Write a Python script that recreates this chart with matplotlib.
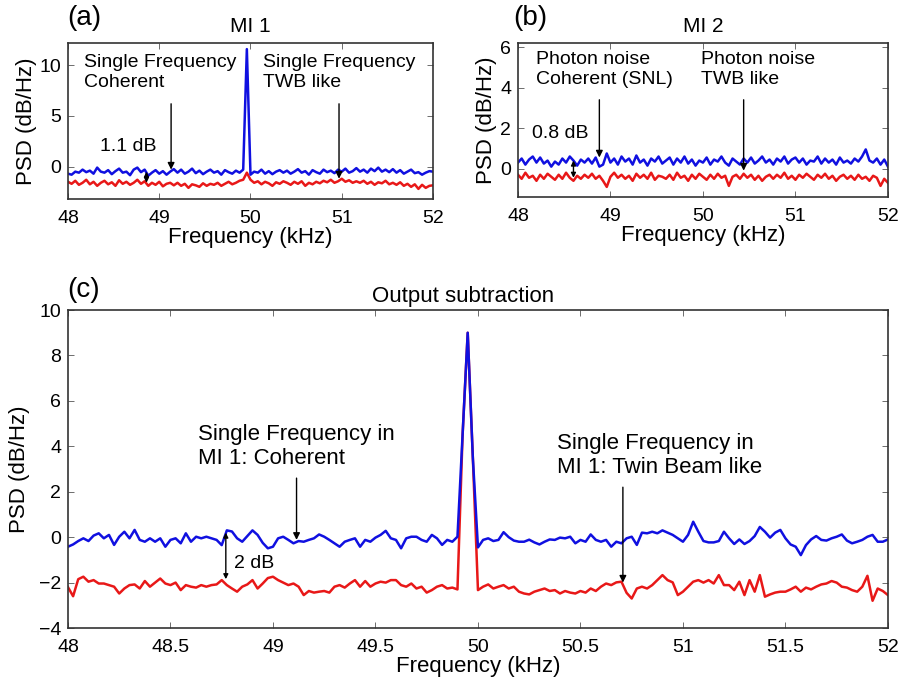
import numpy as np
import matplotlib
matplotlib.use("Agg")
import matplotlib.pyplot as plt

plt.rcParams['font.family'] = ['Liberation Sans', 'DejaVu Sans']

# ---- panel (a): MI 1, 0.04 kHz grid ----
a_blue = [-0.7, -0.8, -0.5, -0.6, -0.3, -0.55, -0.4, -0.7, -0.1, -0.5,
          -0.6, -0.35, -0.75, -0.45, -0.2, -0.6, -0.5, -0.85, -0.3, -0.1,
          -0.55, -0.3, -0.9, -0.6, -0.35, -0.7, -0.45, -0.8, -0.5, -0.25,
          -0.6, -0.3, -0.7, -0.5, -0.2, -0.65, -0.4, -0.75, -0.5, -0.3,
          -0.6, -0.45, -0.8, -0.35, -0.55, -0.7, -0.4, -0.6, -0.3, 11.6,
          -0.8, -0.5, -0.6, -0.3, -0.7, -0.45, -0.75, -0.5, -0.35, -0.6,
          -0.4, -0.7, -0.5, -0.25, -0.6, -0.45, -0.8, -0.35, -0.55, -0.7,
          -0.3, -0.55, -0.4, -0.65, -0.3, -0.5, -0.2, -0.6, -0.45, -0.15,
          -0.5, -0.3, -0.6, -0.2, -0.45, -0.1, -0.5, -0.3, -0.55, -0.25,
          -0.6, -0.35, -0.7, -0.5, -0.3, -0.65, -0.55, -0.8, -0.6, -0.45,
          -0.5]
a_red = [-1.5, -1.7, -1.4, -1.8, -1.6, -1.3, -1.75, -1.5, -1.9, -1.6,
         -1.4, -1.75, -1.55, -1.9, -1.35, -1.7, -1.5, -1.8, -1.6, -1.3,
         -1.7, -1.45, -1.9, -1.6, -1.8, -1.5, -1.95, -1.7, -1.6, -1.85,
         -1.6, -1.9, -1.7, -2.1, -1.75, -1.85, -2.0, -1.65, -1.9, -1.7,
         -1.8, -1.6, -1.9, -1.7, -1.5, -1.75, -1.6, -1.4, -1.3, -0.6,
         -1.3, -1.6, -1.45, -1.75, -1.5, -1.65, -1.9, -1.55, -1.7, -1.45,
         -1.6, -1.8, -1.5, -1.7, -1.45, -1.9, -1.6, -1.75, -1.5, -1.65,
         -1.4, -1.55, -1.3, -1.6, -1.45, -1.2, -1.5, -1.35, -1.6, -1.45,
         -1.6, -1.4, -1.7, -1.5, -1.8, -1.55, -1.65, -1.4, -1.75, -1.6,
         -1.8, -1.55, -1.9, -1.7, -2.0, -1.75, -2.2, -1.8, -2.1, -1.9,
         -1.85]

# ---- panel (b): MI 2, 0.04 kHz grid ----
b_blue = [0.3, 0.5, 0.2, 0.45, 0.6, 0.3, 0.55, 0.25, 0.4, 0.1,
          0.35, 0.2, 0.5, 0.3, 0.6, 0.4, 0.15, 0.45, 0.3, 0.5,
          0.25, 0.55, 0.1, 0.2, 0.75, 0.3, 0.5, 0.2, 0.6, 0.35,
          0.5, 0.2, 0.65, 0.3, 0.45, 0.15, 0.5, 0.35, 0.6, 0.25,
          0.4, 0.55, 0.2, 0.5, 0.3, 0.6, 0.25, 0.45, 0.15, 0.4,
          0.3, 0.55, 0.2, 0.45, 0.35, 0.6, 0.3, 0.15, 0.5, 0.35,
          0.2, 0.5, 0.3, 0.55, 0.25, 0.4, 0.6, 0.3, 0.45, 0.2,
          0.5, 0.35, 0.6, 0.25, 0.45, 0.55, 0.3, 0.5, 0.2, 0.4,
          0.35, 0.6, 0.25, 0.5, 0.3, 0.45, 0.2, 0.55, 0.3, 0.4,
          0.25, 0.5, 0.35, 0.6, 0.95, 0.4, 0.3, 0.5, 0.2, 0.45,
          0.1]
b_red = [-0.3, -0.5, -0.2, -0.45, -0.35, -0.6, -0.3, -0.5, -0.25, -0.4,
         -0.55, -0.3, -0.5, -0.2, -0.45, -0.6, -0.35, -0.5, -0.3, -0.45,
         -0.25, -0.5, -0.35, -0.6, -0.9, -0.4, -0.2, -0.45, -0.3, -0.5,
         -0.35, -0.6, -0.25, -0.45, -0.3, -0.5, -0.2, -0.55, -0.35, -0.4,
         -0.5, -0.3, -0.55, -0.2, -0.45, -0.35, -0.6, -0.3, -0.5, -0.25,
         -0.4, -0.55, -0.3, -0.5, -0.25, -0.45, -0.35, -0.85, -0.4, -0.3,
         -0.5, -0.25, -0.45, -0.3, -0.55, -0.35, -0.6, -0.4, -0.3, -0.5,
         -0.3, -0.45, -0.2, -0.5, -0.35, -0.55, -0.3, -0.45, -0.25, -0.4,
         -0.55, -0.3, -0.45, -0.25, -0.5, -0.35, -0.6, -0.4, -0.3, -0.5,
         -0.35, -0.55, -0.3, -0.5, -0.4, -0.6, -0.35, -0.45, -0.85, -0.5,
         -0.7]

# ---- panel (c): output subtraction, 0.025 kHz grid ----
c_blue = [-0.42, -0.32, -0.17, -0.05, -0.17, 0.07, 0.17, -0.05, 0.10, -0.34,
          0.02, 0.24, -0.05, 0.32, -0.12, -0.20, -0.05, -0.20, -0.05, -0.42,
          -0.12, -0.05, -0.27, 0.17, -0.20, 0.02, -0.05, 0.02, -0.05, -0.12,
          -0.35, 0.30, 0.25, -0.05, -0.20, 0.05, 0.30, 0.10, -0.25, -0.49,
          -0.42, -0.05, 0.02, -0.12, -0.27, -0.17, -0.20, -0.12, -0.05, 0.12,
          0.02, -0.12, -0.27, -0.42, -0.20, -0.12, -0.05, -0.42, -0.12, -0.20,
          -0.02, 0.10, 0.28, -0.05, -0.12, -0.49, -0.05, 0.02, 0.02, -0.12,
          -0.20, 0.10, -0.05, -0.34, -0.12, -0.20, 0.02, 4.5, 9.0, 3.5,
          -0.45, -0.12, -0.05, -0.17, -0.12, 0.22, 0.00, -0.15, -0.20, -0.20,
          -0.11, -0.23, -0.32, -0.20, -0.10, -0.12, -0.02, -0.05, 0.02, -0.27,
          -0.12, -0.20, 0.12, -0.12, -0.20, -0.12, -0.42, -0.20, -0.27, -0.05,
          0.02, -0.34, 0.20, 0.17, 0.24, 0.17, 0.30, 0.20, 0.10, -0.05,
          -0.20, 0.10, 0.68, 0.24, -0.17, -0.23, -0.23, -0.17, 0.24, -0.05,
          -0.30, -0.10, -0.30, -0.17, 0.05, 0.45, 0.24, -0.02, 0.20, 0.32,
          -0.05, -0.32, -0.42, -0.79, -0.35, -0.10, 0.05, -0.12, -0.15, -0.05,
          0.02, 0.12, -0.15, -0.27, -0.20, -0.12, 0.02, 0.10, -0.20, -0.20,
          -0.10]
c_red = [-2.20, -2.60, -1.85, -1.74, -1.96, -1.89, -2.04, -2.04, -2.11, -2.18,
         -2.48, -2.26, -2.11, -2.08, -2.26, -1.93, -2.18, -2.00, -1.82, -2.04,
         -2.11, -2.00, -2.33, -2.11, -2.18, -2.22, -2.11, -2.18, -2.11, -2.08,
         -1.89, -2.11, -2.26, -2.40, -2.18, -2.08, -1.89, -2.26, -2.04, -1.80,
         -1.74, -1.89, -2.00, -2.11, -2.04, -2.18, -2.55, -2.37, -2.44, -2.40,
         -2.37, -2.44, -2.18, -2.11, -2.22, -2.04, -1.89, -2.18, -1.93, -2.18,
         -2.04, -1.96, -2.00, -1.89, -1.89, -2.11, -2.18, -2.04, -2.26, -2.18,
         -2.44, -2.33, -2.18, -2.11, -2.26, -2.22, -2.30, 4.5, 9.0, 3.5,
         -2.33, -2.18, -2.08, -2.26, -2.18, -2.11, -2.26, -2.18, -2.40, -2.48,
         -2.52, -2.40, -2.33, -2.26, -2.37, -2.33, -2.48, -2.37, -2.44, -2.48,
         -2.37, -2.44, -2.26, -2.37, -2.18, -2.04, -2.11, -1.99, -1.96, -2.45,
         -2.70, -2.26, -2.18, -2.26, -2.11, -1.89, -1.67, -1.89, -1.99, -2.55,
         -2.40, -2.18, -1.96, -1.89, -2.00, -1.89, -2.04, -1.67, -2.11, -2.11,
         -2.33, -1.96, -2.55, -1.89, -2.40, -1.67, -2.62, -2.52, -2.44, -2.40,
         -2.40, -2.30, -2.18, -2.40, -2.22, -2.30, -2.18, -2.08, -2.04, -1.93,
         -2.00, -2.18, -2.22, -2.33, -2.40, -2.18, -1.70, -2.80, -2.26, -2.37,
         -2.55]

freq_a = np.linspace(48, 52, len(a_blue))
freq_b = np.linspace(48, 52, len(b_blue))
freq_c = np.linspace(48, 52, len(c_blue))

BLUE = '#1010e0'
RED = '#e81818'
TICK = 14
ANN = 14


def style(ax):
    ax.tick_params(direction='in', top=True, right=True, labelsize=TICK,
                   length=4, width=0.6, color='#555555')
    ax.tick_params(axis='x', pad=8)
    ax.tick_params(axis='y', pad=5)
    for s in ax.spines.values():
        s.set_color('#333333')
        s.set_linewidth(1.2)


def arrow(ax, x, y0, y1):
    ax.annotate('', xy=(x, y1), xytext=(x, y0),
                arrowprops=dict(arrowstyle='-|>', color='k', lw=1.0,
                                mutation_scale=10, shrinkA=0, shrinkB=0))


def darrow(ax, x, y0, y1):
    ax.annotate('', xy=(x, y1), xytext=(x, y0),
                arrowprops=dict(arrowstyle='<|-|>', color='k', lw=1.0,
                                mutation_scale=7, shrinkA=0, shrinkB=0))


fig = plt.figure(figsize=(8.98, 6.78), dpi=100)

# (a)
ax1 = fig.add_axes([0.0757, 0.7065, 0.4065, 0.2300])
ax1.plot(freq_a, a_red, color=RED, lw=1.8)
ax1.plot(freq_a, a_blue, color=BLUE, lw=1.8)
ax1.set_xlim(48, 52)
ax1.set_ylim(-3.2, 12.2)
ax1.set_xticks([48, 49, 50, 51, 52])
ax1.set_yticks([0, 5, 10])
style(ax1)
ax1.set_title('MI 1', fontsize=15, pad=8)
ax1.set_xlabel('Frequency (kHz)', fontsize=16, labelpad=0)
ax1.set_ylabel('PSD (dB/Hz)', fontsize=16, labelpad=2)
ax1.text(48.18, 11.1, 'Single Frequency\nCoherent', fontsize=ANN, va='top',
         linespacing=1.25)
ax1.text(50.14, 11.1, 'Single Frequency\nTWB like', fontsize=ANN, va='top',
         linespacing=1.25)
arrow(ax1, 49.13, 6.2, -0.3)
arrow(ax1, 50.97, 6.2, -1.2)
ax1.text(48.35, 2.0, '1.1 dB', fontsize=ANN, va='center')
darrow(ax1, 48.86, -0.5, -1.6)

# (b)
ax2 = fig.add_axes([0.5768, 0.7094, 0.4120, 0.2271])
ax2.plot(freq_b, b_red, color=RED, lw=1.8)
ax2.plot(freq_b, b_blue, color=BLUE, lw=1.8)
ax2.set_xlim(48, 52)
ax2.set_ylim(-1.4, 6.2)
ax2.set_xticks([48, 49, 50, 51, 52])
ax2.set_yticks([0, 2, 4, 6])
style(ax2)
ax2.set_title('MI 2', fontsize=15, pad=8)
ax2.set_xlabel('Frequency (kHz)', fontsize=16, labelpad=0)
ax2.set_ylabel('PSD (dB/Hz)', fontsize=16, labelpad=2)
ax2.text(48.19, 5.8, 'Photon noise\nCoherent (SNL)', fontsize=ANN, va='top',
         linespacing=1.25)
ax2.text(49.98, 5.8, 'Photon noise\nTWB like', fontsize=ANN, va='top',
         linespacing=1.25)
arrow(ax2, 48.88, 3.4, 0.55)
arrow(ax2, 50.44, 3.4, -0.1)
ax2.text(48.15, 1.76, '0.8 dB', fontsize=ANN, va='center')
darrow(ax2, 48.6, 0.4, -0.45)

# (c)
ax3 = fig.add_axes([0.0757, 0.0737, 0.9131, 0.4690])
ax3.plot(freq_c, c_red, color=RED, lw=1.8)
ax3.plot(freq_c, c_blue, color=BLUE, lw=1.8)
ax3.set_xlim(48, 52)
ax3.set_ylim(-4, 10)
ax3.set_xticks([48, 48.5, 49, 49.5, 50, 50.5, 51, 51.5, 52])
ax3.set_xticklabels(['48', '48.5', '49', '49.5', '50', '50.5', '51', '51.5', '52'])
ax3.set_yticks([-4, -2, 0, 2, 4, 6, 8, 10])
style(ax3)
ax3.tick_params(axis='x', pad=8)
ax3.text(0.482, 1.043, 'Output subtraction', transform=ax3.transAxes,
         fontsize=16, ha='center', va='center')
ax3.set_xlabel('Frequency (kHz)', fontsize=16, labelpad=0)
ax3.set_ylabel('PSD (dB/Hz)', fontsize=16, labelpad=6)
ax3.text(48.635, 5.0, 'Single Frequency in\nMI 1: Coherent', fontsize=16,
         va='top', linespacing=1.2)
ax3.text(50.385, 4.6, 'Single Frequency in\nMI 1: Twin Beam like',
         fontsize=16, va='top', linespacing=1.2)
arrow(ax3, 49.115, 2.6, -0.12)
arrow(ax3, 50.707, 2.2, -2.0)
ax3.text(48.81, -1.14, '2 dB', fontsize=ANN, va='center')
darrow(ax3, 48.77, 0.2, -1.85)

fig.text(0.0746, 0.973, '(a)', fontsize=20, va='center')
fig.text(0.571, 0.973, '(b)', fontsize=20, va='center')
fig.text(0.0746, 0.572, '(c)', fontsize=20, va='center')

fig.savefig('out.png', dpi=100)
